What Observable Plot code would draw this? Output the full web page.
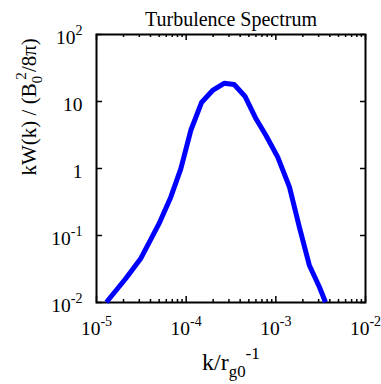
<!DOCTYPE html>
<html><head><meta charset="utf-8">
<script src="https://cdn.jsdelivr.net/npm/d3@7"></script>
<script src="https://cdn.jsdelivr.net/npm/@observablehq/plot@0.6"></script>
<style>body{margin:0;background:#fff} svg{display:block} svg text, svg tspan{font-family:"Liberation Serif","Times New Roman",serif !important}</style>
</head><body><div id="chart"></div>
<script>
// ---- data ----
const kValues  = [1.29e-5, 2.11e-5, 3.10e-5, 4.98e-5, 6.73e-5, 8.71e-5, 1.125e-4, 1.49e-4, 1.97e-4, 2.65e-4,
                  3.43e-4, 4.52e-4, 6.01e-4, 7.77e-4, 1.05e-3, 1.42e-3, 1.83e-3, 2.37e-3, 3.07e-3, 3.58e-3];
const spectrum = [0.0101, 0.0226, 0.0449, 0.150, 0.373, 0.99, 3.69, 9.77, 14.6, 18.7,
                  17.9, 12.0, 5.52, 3.11, 1.48, 0.526, 0.133, 0.0356, 0.0169, 0.0101];
const xMajorTicks = [1e-5, 1e-4, 1e-3, 1e-2];
const xTickLabels = ["10^{-5}", "10^{-4}", "10^{-3}", "10^{-2}"];
const xMinorTicks = [2e-5,3e-5,4e-5,5e-5,6e-5,7e-5,8e-5,9e-5,
                     2e-4,3e-4,4e-4,5e-4,6e-4,7e-4,8e-4,9e-4,
                     2e-3,3e-3,4e-3,5e-3,6e-3,7e-3,8e-3,9e-3];
const yMajorTicks = [1e-2, 1e-1, 1, 10, 100];
const yTickLabels = ["10^{-2}", "10^{-1}", "1", "10", "10^{2}"];
const titleText = "Turbulence Spectrum";
const xLabelText = "k/r_{g0}^{-1}";
const yLabelText = "kW(k) / (B_{0}@{2}/8π)";

// ---- layout ----
const W = 381, H = 384, mL = 96, mR = 16, mT = 34, mB = 82;
const fW = W - mL - mR, fH = H - mT - mB;
const font = "Liberation Serif";

const svg = Plot.plot({
  width: W, height: H,
  marginLeft: mL, marginRight: mR, marginTop: mT, marginBottom: mB,
  x: {type: "log", domain: [1e-5, 1e-2], axis: null},
  y: {type: "log", domain: [1e-2, 1e2], axis: null},
  style: {fontFamily: font, background: "white", color: "black"},
  marks: [
    // ticks (inward) on all four sides
    Plot.ruleX(xMajorTicks, {x: d => d, insetTop: fH - 6, stroke: "black", strokeWidth: 1.5}),
    Plot.ruleX(xMajorTicks, {x: d => d, insetBottom: fH - 6, stroke: "black", strokeWidth: 1.5}),
    Plot.ruleX(xMinorTicks, {x: d => d, insetTop: fH - 3, stroke: "black", strokeWidth: 1.5}),
    Plot.ruleX(xMinorTicks, {x: d => d, insetBottom: fH - 3, stroke: "black", strokeWidth: 1.5}),
    Plot.ruleY(yMajorTicks, {y: d => d, insetRight: fW - 6, stroke: "black", strokeWidth: 1.5}),
    Plot.ruleY(yMajorTicks, {y: d => d, insetLeft: fW - 5, stroke: "black", strokeWidth: 1.5}),
    Plot.frame({stroke: "black", strokeWidth: 2}),
    Plot.line(kValues.map((k, i) => ({k, w: spectrum[i]})),
      {x: "k", y: "w", stroke: "#0000ff", strokeWidth: 5, strokeLinejoin: "round", strokeLinecap: "butt"}),
    // tick labels
    Plot.text(xMajorTicks, {x: d => d, text: (d, i) => xTickLabels[i], frameAnchor: "bottom",
      dy: 32, fontSize: 19.5, fontFamily: font, fill: "black"}),
    Plot.text(yMajorTicks, {y: d => d, text: (d, i) => yTickLabels[i], frameAnchor: "left",
      textAnchor: "end", dx: -14, dy: 3, fontSize: 19.5, fontFamily: font, fill: "black"}),
    // title and axis labels
    Plot.text([titleText], {text: d => d, frameAnchor: "top", dy: -23, fontSize: 20, fontFamily: font, fill: "black"}),
    Plot.text([xLabelText], {text: d => d, frameAnchor: "bottom", dy: 67, fontSize: 24, fontFamily: font, fill: "black"}),
    Plot.text([yLabelText], {text: d => d, frameAnchor: "left", dx: -67.5, dy: 7, rotate: -90, fontSize: 21, fontFamily: font, fill: "black"})
  ]
});
document.getElementById("chart").appendChild(svg);

// ---- turn ^{..} / _{..} / @{..} markup into real super/subscripts ----
function richify(root) {
  root.querySelectorAll("text").forEach(t => {
    const s = t.textContent;
    if (!/[\^_@]\{/.test(s)) return;
    const holder = t.closest("[font-size]");
    const base = holder ? parseFloat(holder.getAttribute("font-size")) : 16;
    const parts = [];
    const re = /([\^_@])\{([^}]*)\}/g;
    let last = 0, m;
    while ((m = re.exec(s))) {
      if (m.index > last) parts.push({kind: "n", txt: s.slice(last, m.index)});
      parts.push({kind: m[1], txt: m[2]});
      last = re.lastIndex;
    }
    if (last < s.length) parts.push({kind: "n", txt: s.slice(last)});
    while (t.firstChild) t.removeChild(t.firstChild);
    let cur = 0, prev = null;
    const ns = "http://www.w3.org/2000/svg";
    for (const p of parts) {
      const ts = document.createElementNS(ns, "tspan");
      let target = 0, size = base;
      if (p.kind === "^" || p.kind === "@") { target = -base * 0.45; size = base * 0.72; }
      else if (p.kind === "_") { target = base * 0.3; size = base * 0.7; }
      ts.setAttribute("font-size", size);
      ts.setAttribute("dy", target - cur);
      cur = target;
      ts.textContent = p.txt;
      t.appendChild(ts);
      if (p.kind === "@" && prev) {
        const wPrev = prev.getComputedTextLength();
        ts.setAttribute("dx", -wPrev * 0.5);
      }
      prev = ts;
    }
  });
}
richify(svg);
</script>
</body></html>
